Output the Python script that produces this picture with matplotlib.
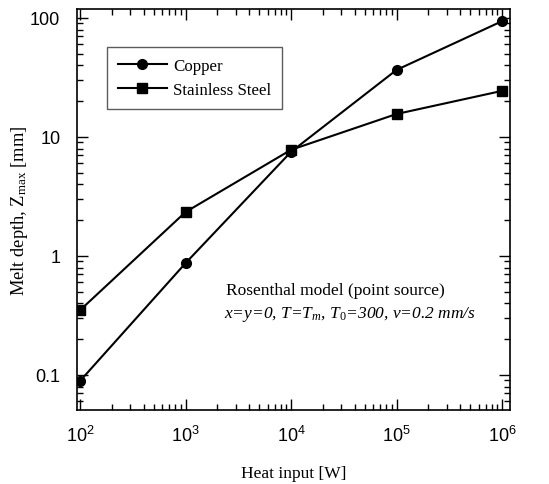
import matplotlib
matplotlib.use("Agg")
import matplotlib.pyplot as plt
from matplotlib.ticker import LogLocator, FixedLocator, FixedFormatter, NullFormatter

plt.rcParams['mathtext.fontset'] = 'custom'
plt.rcParams['mathtext.rm'] = 'Liberation Serif'
plt.rcParams['mathtext.it'] = 'Liberation Serif:italic'
plt.rcParams['mathtext.bf'] = 'Liberation Serif:bold'

heat_input = [1e2, 1e3, 1e4, 1e5, 1e6]
copper = [0.089, 0.87, 7.5, 36.6, 94]
steel = [0.35, 2.34, 7.8, 15.6, 24.4]

x_ticks = [1e2, 1e3, 1e4, 1e5, 1e6]
x_tick_labels = ['$\\mathregular{10^{2}}$', '$\\mathregular{10^{3}}$', '$\\mathregular{10^{4}}$',
                 '$\\mathregular{10^{5}}$', '$\\mathregular{10^{6}}$']
y_ticks = [0.1, 1, 10, 100]
y_tick_labels = ['0.1', '1', '10', '100']

fig = plt.figure(figsize=(5.49, 4.85), dpi=100)
ax = fig.add_axes([0.1403, 0.1526, 0.7887, 0.8268])

ax.plot(heat_input, copper, '-', color='black', lw=1.5, marker='o', ms=7, label='Copper')
ax.plot(heat_input, steel, '-', color='black', lw=1.5, marker='s', ms=7.5, label='Stainless Steel')

ax.set_xscale('log')
ax.set_yscale('log')
ax.set_xlim(93.7, 1.19e6)
ax.set_ylim(0.0508, 119)

ax.xaxis.set_major_locator(FixedLocator(x_ticks))
ax.xaxis.set_major_formatter(FixedFormatter(x_tick_labels))
ax.yaxis.set_major_locator(FixedLocator(y_ticks))
ax.yaxis.set_major_formatter(FixedFormatter(y_tick_labels))
ax.xaxis.set_minor_locator(LogLocator(base=10, subs=range(2, 10), numticks=20))
ax.yaxis.set_minor_locator(LogLocator(base=10, subs=range(2, 10), numticks=20))
ax.xaxis.set_minor_formatter(NullFormatter())
ax.yaxis.set_minor_formatter(NullFormatter())

ax.tick_params(which='both', direction='in', top=True, right=True, width=1)
ax.tick_params(which='major', length=8)
ax.tick_params(axis='x', which='major', pad=11)
ax.tick_params(axis='y', which='major', pad=12)
ax.tick_params(which='minor', length=4)
for lab in ax.get_xticklabels() + ax.get_yticklabels():
    lab.set_fontfamily('Liberation Sans')
    lab.set_fontsize(13)
for s in ax.spines.values():
    s.set_linewidth(1.2)

ax.set_xlabel('Heat input [W]', family='Liberation Serif', fontsize=12.5, labelpad=14)
ax.set_ylabel('Melt depth, Z$_{\\mathregular{max}}$ [mm]', family='Liberation Serif', fontsize=13.3, labelpad=0)

leg = ax.legend(loc='upper left', bbox_to_anchor=(0.069, 0.905), borderaxespad=0,
                prop={'family': 'Liberation Serif', 'size': 12.2},
                frameon=True, fancybox=False, edgecolor='#333333', handlelength=2.9, borderpad=0.65,
                labelspacing=0.45, handletextpad=0.35)
leg.get_frame().set_linewidth(1.0)

ax.text(0.344, 0.289, 'Rosenthal model (point source)', transform=ax.transAxes,
        family='Liberation Serif', fontsize=12.5, va='baseline')
ax.text(0.339, 0.232, 'x=y=0, T=T$_m$, T$_0$=300, v=0.2 mm/s', transform=ax.transAxes,
        family='Liberation Serif', style='italic', fontsize=12.5, va='baseline')

fig.savefig('out.png', dpi=100)
